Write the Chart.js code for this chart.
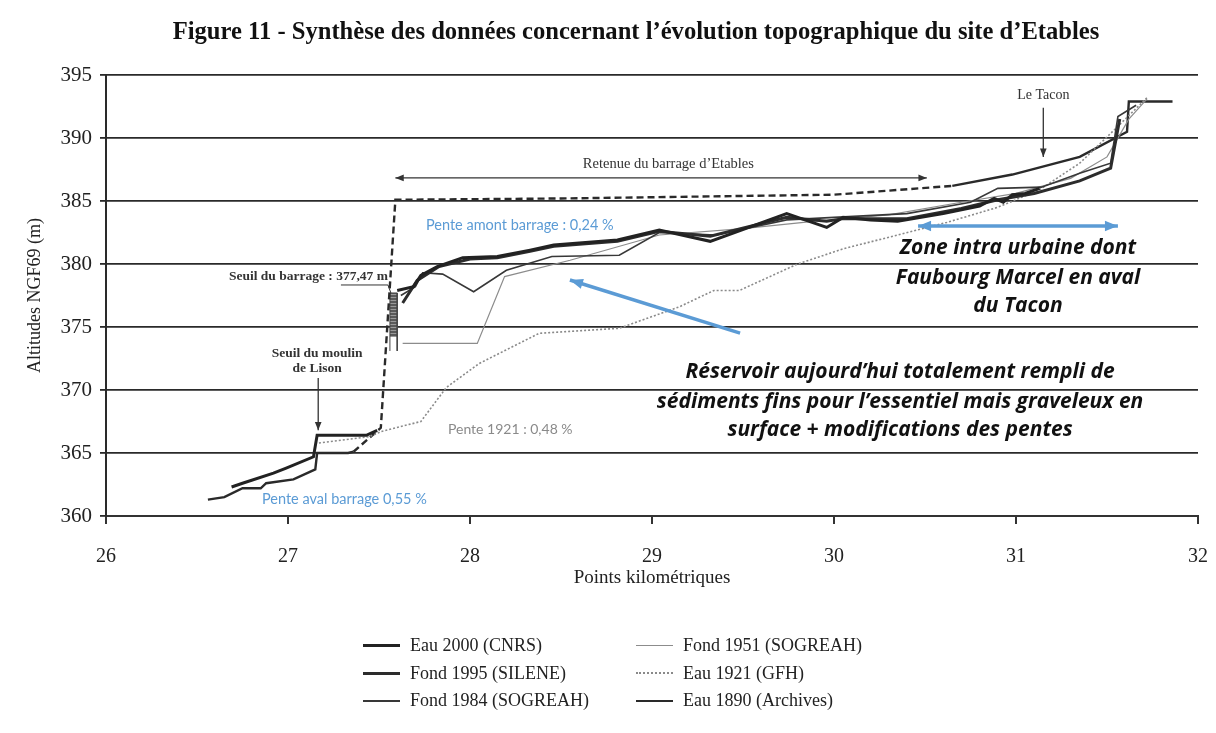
<!DOCTYPE html>
<html lang="fr">
<head>
<meta charset="utf-8">
<title>Figure 11 - Etables</title>
<script src="https://cdn.jsdelivr.net/npm/chart.js@4.4.1/dist/chart.umd.min.js"></script>
<style>
  html, body { margin: 0; padding: 0; background: #fff; }
  #wrap { position: relative; width: 1216px; height: 733px; }
  #legend {
    position: absolute; left: 363px; top: 632px;
    display: grid; grid-template-columns: 273px 273px;
    grid-template-rows: repeat(3, 27.5px); grid-auto-flow: column;
    font: 18px "Liberation Serif", "DejaVu Serif", serif; color: #222;
  }
  .item { display: flex; align-items: center; white-space: nowrap; }
  .swatch { width: 37px; margin-right: 10px; }
</style>
</head>
<body>
<div id="wrap">
  <canvas id="profil" width="1216" height="733"></canvas>
  <div id="legend"></div>
</div>
<script>
// Profils en long du site d'Etables (PK en km, altitudes NGF69 en m)
const seriesNames = ['Eau 2000 (CNRS)', 'Fond 1995 (SILENE)', 'Fond 1984 (SOGREAH)',
                     'Fond 1951 (SOGREAH)', 'Eau 1921 (GFH)', 'Eau 1890 (Archives)'];

const eau2000Km  = [26.69, 26.75, 26.92, 26.99, 27.14, 27.16, 27.43, 27.49, 27.55, 27.6, 27.69, 27.73, 27.82, 27.96, 28.15, 28.33, 28.46, 28.81, 29.04, 29.32, 29.74, 29.96, 30.05, 30.2, 30.35, 30.6, 30.8, 30.88, 30.93, 30.98, 31.05, 31.13];
const eau2000Alt = [362.3, 362.6, 363.4, 363.8, 364.7, 366.4, 366.4, 366.8, null, 377.9, 378.2, 379.1, 379.8, 380.5, 380.6, 381.1, 381.5, 381.9, 382.7, 381.8, 384.0, 382.9, 383.7, 383.5, 383.4, 384.0, 384.6, 385.2, 384.9, 385.5, 385.6, 386.0];

const fond1995Km  = [27.63, 27.71, 27.83, 28.0, 28.15, 28.33, 28.46, 28.81, 29.04, 29.32, 29.74, 29.96, 30.05, 30.4, 30.7, 30.9, 31.1, 31.35, 31.52, 31.57];
const fond1995Alt = [376.9, 378.7, 379.8, 380.4, 380.5, 381.0, 381.4, 381.8, 382.6, 382.2, 383.7, 383.4, 383.6, 383.6, 384.4, 385.1, 385.6, 386.6, 387.6, 391.5];

const fond1984Km  = [27.62, 27.7, 27.74, 27.85, 28.02, 28.2, 28.45, 28.82, 29.04, 29.35, 29.74, 30.0, 30.4, 30.75, 30.9, 31.14, 31.35, 31.52, 31.56, 31.66];
const fond1984Alt = [377.5, 378.2, 379.3, 379.2, 377.8, 379.5, 380.6, 380.7, 382.5, 382.3, 383.5, 383.7, 384.0, 384.9, 386.0, 386.1, 387.2, 388.0, 391.7, 392.6];

const fond1951Km  = [27.63, 28.04, 28.19, 28.55, 29.04, 29.5, 29.9, 30.3, 30.7, 31.0, 31.3, 31.5, 31.62, 31.72];
const fond1951Alt = [373.7, 373.7, 379.0, 380.3, 382.3, 382.8, 383.4, 383.9, 384.9, 385.6, 386.8, 388.5, 391.5, 393.1];

const eau1921Km  = [27.17, 27.45, 27.51, 27.73, 27.87, 28.05, 28.38, 28.82, 29.15, 29.34, 29.48, 29.8, 30.05, 30.62, 30.9, 31.13, 31.35, 31.53, 31.72];
const eau1921Alt = [365.8, 366.3, 366.7, 367.5, 370.2, 372.1, 374.5, 374.9, 376.6, 377.9, 377.9, 380.0, 381.2, 383.3, 384.5, 385.9, 388.0, 390.5, 393.2];

const eau1890Km  = [26.56, 26.65, 26.75, 26.85, 26.88, 27.03, 27.15, 27.16, 27.33, 27.36, 27.51, 27.59, 28.5, 30.0, 30.65, 30.98, 31.35, 31.61, 31.62, 31.86];
const eau1890Alt = [361.3, 361.5, 362.2, 362.2, 362.6, 362.9, 363.7, 365.0, 365.0, 365.1, 367.0, 385.1, 385.2, 385.5, 386.2, 387.1, 388.5, 390.5, 392.9, 392.9];
// retenue du barrage (partie en tirets de la ligne d'eau 1890)
const retenueRange = [27.36, 30.65];

// seuil du barrage
const barrageKm  = [27.56, 27.56, 27.60, 27.60];
const barrageAlt = [373.1, 377.7, 377.7, 373.1];
const barrageBase = 374.2;

const xTicks = [26, 27, 28, 29, 30, 31, 32];
const yTicks = [360, 365, 370, 375, 380, 385, 390, 395];

const serif = '"Liberation Serif", "DejaVu Serif", serif';
const sans = 'Lato, "Open Sans", sans-serif';
const boldSans = '"Open Sans", Lato, sans-serif';
const blue = '#5b9bd5';

const seriesStyles = [
  { color: '#222', width: 3 },
  { color: '#2c2c2c', width: 3 },
  { color: '#383838', width: 1.6 },
  { color: '#8c8c8c', width: 1.2 },
  { color: '#8a8a8a', width: 1.6, dash: [2, 2] },
  { color: '#2a2a2a', width: 2.4 }
];

function toPoints(km, alt) {
  return km.map((k, i) => ({ x: k, y: alt[i] }));
}

const seriesData = [
  toPoints(eau2000Km, eau2000Alt),
  toPoints(fond1995Km, fond1995Alt),
  toPoints(fond1984Km, fond1984Alt),
  toPoints(fond1951Km, fond1951Alt),
  toPoints(eau1921Km, eau1921Alt),
  toPoints(eau1890Km, eau1890Alt)
];

// hatched fill for the dam
function hatchPattern() {
  const c = document.createElement('canvas');
  c.width = 4; c.height = 3;
  const g = c.getContext('2d');
  g.fillStyle = '#5a5a5a';
  g.fillRect(0, 0, 4, 3);
  g.fillStyle = '#9a9a9a';
  g.fillRect(0, 0, 4, 1);
  return g.createPattern(c, 'repeat');
}

const datasets = seriesNames.map((name, i) => {
  const st = seriesStyles[i];
  const ds = {
    label: name,
    data: seriesData[i],
    borderColor: st.color,
    borderWidth: st.width,
    borderDash: st.dash || [],
    pointRadius: 0,
    fill: false,
    tension: 0,
    spanGaps: false
  };
  if (i === 5) {
    ds.segment = {
      borderDash: ctx => (ctx.p0.parsed.x >= retenueRange[0] && ctx.p1.parsed.x <= retenueRange[1] ? [7, 4] : undefined)
    };
  }
  return ds;
});

datasets.push({
  label: 'Seuil du barrage',
  data: toPoints(barrageKm, barrageAlt),
  borderColor: '#444',
  borderWidth: 1,
  pointRadius: 0,
  backgroundColor: hatchPattern(),
  fill: { value: barrageBase },
  tension: 0
});

// annotations (positions in data units)
const notes = [
  { text: 'Retenue du barrage d\u2019Etables', km: 29.09, alt: 387.9, font: `14.5px ${serif}`, color: '#333' },
  { text: 'Le Tacon', km: 31.15, alt: 393.4, font: `14px ${serif}`, color: '#333' },
  { text: 'Seuil du moulin', km: 27.16, alt: 372.9, font: `bold 13.5px ${serif}`, color: '#333' },
  { text: 'de Lison', km: 27.16, alt: 371.7, font: `bold 13.5px ${serif}`, color: '#333' },
  { text: 'Pente amont barrage : 0,24 %', km: 27.758, alt: 383.1, font: `14.5px ${sans}`, color: blue, align: 'left' },
  { text: 'Pente aval barrage 0,55 %', km: 26.857, alt: 361.35, font: `14.5px ${sans}`, color: blue, align: 'left' },
  { text: 'Pente 1921 : 0,48 %', km: 27.879, alt: 366.83, font: `14px ${sans}`, color: '#8a8a8a', align: 'left' },
  { text: 'Zone intra urbaine dont', km: 31.011, alt: 381.27, font: `italic bold 21px ${boldSans}`, color: '#111' },
  { text: 'Faubourg Marcel en aval', km: 31.011, alt: 378.89, font: `italic bold 21px ${boldSans}`, color: '#111' },
  { text: 'du Tacon', km: 31.011, alt: 376.67, font: `italic bold 21px ${boldSans}`, color: '#111' },
  { text: 'R\u00e9servoir aujourd\u2019hui totalement rempli de', km: 30.363, alt: 371.43, font: `italic bold 21px ${boldSans}`, color: '#111' },
  { text: 's\u00e9diments fins pour l\u2019essentiel mais graveleux en', km: 30.363, alt: 369.05, font: `italic bold 21px ${boldSans}`, color: '#111' },
  { text: 'surface + modifications des pentes', km: 30.363, alt: 366.83, font: `italic bold 21px ${boldSans}`, color: '#111' }
];

const arrows = [
  { from: [30.51, 386.83], to: [27.59, 386.83], color: '#333', width: 1.3, head: 9, both: true },
  { from: [31.15, 392.4], to: [31.15, 388.5], color: '#333', width: 1.3, head: 9 },
  { from: [27.166, 370.95], to: [27.166, 366.8], color: '#333', width: 1.3, head: 9 },
  { from: [29.484, 374.52], to: [28.549, 378.73], color: blue, width: 3.5, head: 14 },
  { from: [30.462, 383.02], to: [31.56, 383.02], color: blue, width: 3.5, head: 14, both: true }
];

const seuilLabel = { text: 'Seuil du barrage : 377,47 m', underlined: '77,47 m', km: 27.549, alt: 378.97 };
const titleText = 'Figure 11 - Synth\u00e8se des donn\u00e9es concernant l\u2019\u00e9volution topographique du site d\u2019Etables';

function arrowHead(ctx, x1, y1, x2, y2, size) {
  const a = Math.atan2(y2 - y1, x2 - x1);
  ctx.beginPath();
  ctx.moveTo(x2, y2);
  ctx.lineTo(x2 - size * Math.cos(a - 0.38), y2 - size * Math.sin(a - 0.38));
  ctx.lineTo(x2 - size * Math.cos(a + 0.38), y2 - size * Math.sin(a + 0.38));
  ctx.closePath();
  ctx.fill();
}

const overlayPlugin = {
  id: 'overlay',
  afterDatasetsDraw(chart) {
    const { ctx, scales: { x, y } } = chart;
    const px = v => x.getPixelForValue(v);
    const py = v => y.getPixelForValue(v);
    ctx.save();

    // title
    ctx.font = `bold 24.6px ${serif}`;
    ctx.fillStyle = '#111';
    ctx.textAlign = 'center';
    ctx.textBaseline = 'middle';
    ctx.fillText(titleText, 636, 33);

    notes.forEach(n => {
      ctx.font = n.font;
      ctx.fillStyle = n.color;
      ctx.textAlign = n.align || 'center';
      ctx.textBaseline = 'middle';
      ctx.fillText(n.text, px(n.km), py(n.alt));
    });

    // seuil du barrage label with underline and leader
    ctx.font = `bold 13.5px ${serif}`;
    ctx.fillStyle = '#333';
    ctx.textAlign = 'right';
    const sx = px(seuilLabel.km), sy = py(seuilLabel.alt);
    ctx.fillText(seuilLabel.text, sx, sy);
    const uw = ctx.measureText(seuilLabel.underlined).width;
    ctx.strokeStyle = '#333';
    ctx.lineWidth = 1;
    ctx.beginPath();
    ctx.moveTo(sx - uw - 2, sy + 8);
    ctx.lineTo(sx, sy + 8);
    ctx.lineTo(px(barrageKm[1]) + 1, py(barrageAlt[1]));
    ctx.stroke();

    arrows.forEach(a => {
      const x1 = px(a.from[0]), y1 = py(a.from[1]);
      const x2 = px(a.to[0]), y2 = py(a.to[1]);
      ctx.strokeStyle = a.color;
      ctx.fillStyle = a.color;
      ctx.lineWidth = a.width;
      ctx.beginPath();
      ctx.moveTo(x1, y1);
      ctx.lineTo(x2, y2);
      ctx.stroke();
      arrowHead(ctx, x1, y1, x2, y2, a.head);
      if (a.both) arrowHead(ctx, x2, y2, x1, y1, a.head);
    });

    ctx.restore();
  }
};

const chart = new Chart(document.getElementById('profil'), {
  type: 'line',
  data: { datasets: datasets },
  options: {
    responsive: false,
    animation: false,
    parsing: false,
    layout: { padding: { top: 75, right: 18, bottom: 140, left: 0 } },
    plugins: {
      legend: { display: false },
      tooltip: { enabled: false }
    },
    scales: {
      x: {
        type: 'linear',
        min: 26, max: 32,
        afterFit: s => { s.height = 77; s.paddingLeft = 0; s.paddingRight = 0; },
        afterBuildTicks: s => { s.ticks = xTicks.map(v => ({ value: v })); },
        ticks: { color: '#222', padding: 21, font: { family: serif, size: 20 } },
        grid: { drawOnChartArea: false, drawTicks: true, tickLength: 8, color: '#333', lineWidth: 2 },
        border: { display: true, color: '#333', width: 2 },
        title: { display: true, text: 'Points kilom\u00e9triques', color: '#222',
                 font: { family: serif, size: 19 }, padding: { top: 0, bottom: 4 } }
      },
      y: {
        type: 'linear',
        min: 360, max: 395,
        afterFit: s => { s.width = 106; s.paddingTop = 0; s.paddingBottom = 0; },
        afterBuildTicks: s => { s.ticks = yTicks.map(v => ({ value: v })); },
        ticks: { color: '#222', padding: 8, font: { family: serif, size: 21 } },
        grid: { color: '#2a2a2a', lineWidth: 1.8, tickLength: 6 },
        border: { display: true, color: '#2a2a2a', width: 2 },
        title: { display: true, text: 'Altitudes NGF69 (m)', color: '#222',
                 font: { family: serif, size: 18 }, padding: { top: 24, bottom: 0 } }
      }
    }
  },
  plugins: [overlayPlugin]
});

// legend in two columns
const legendEl = document.getElementById('legend');
seriesNames.forEach((name, i) => {
  const st = seriesStyles[i];
  const item = document.createElement('div');
  item.className = 'item';
  const sw = document.createElement('div');
  sw.className = 'swatch';
  sw.style.borderTop = `${Math.max(1, Math.round(st.width))}px ${st.dash ? 'dotted' : 'solid'} ${st.color}`;
  item.appendChild(sw);
  item.appendChild(document.createTextNode(name));
  legendEl.appendChild(item);
});
</script>
</body>
</html>
